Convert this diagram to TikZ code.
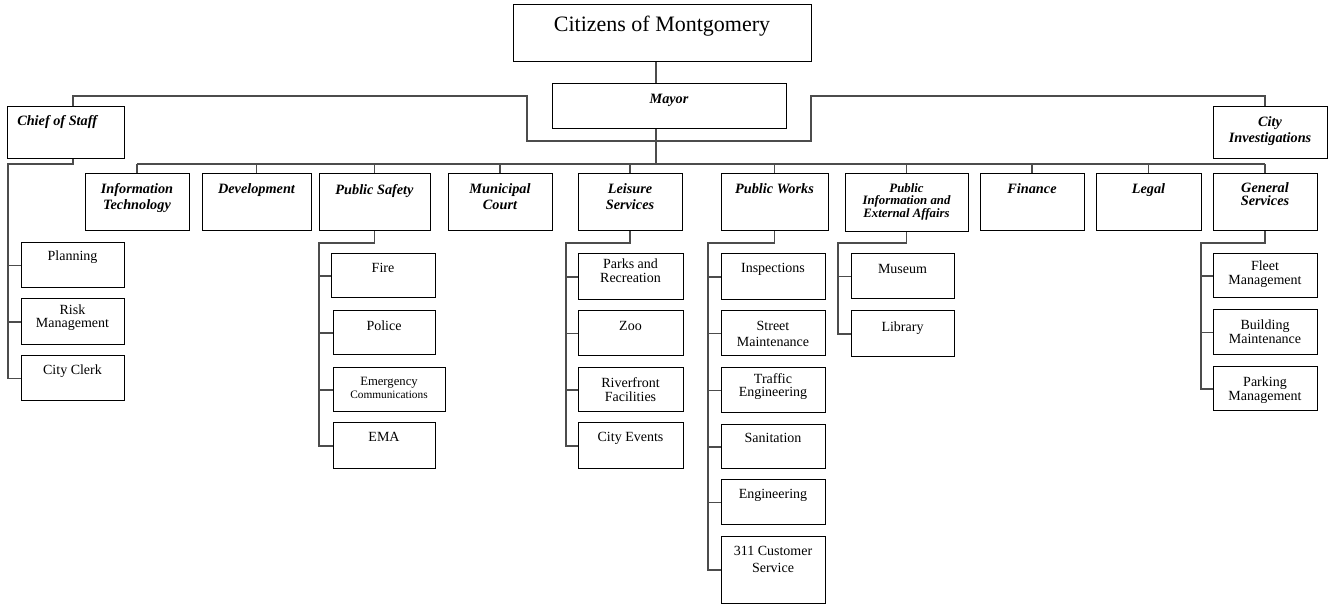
\documentclass[tikz,border=0pt]{standalone}
\usepackage{fontspec}
\setmainfont{Liberation Serif}
\newcommand\obox[5]{\node[bx, minimum width={(#4-#2)*0.75pt}, minimum height={(#5-#3)*0.75pt}] (#1) at ({(#2+#4)/2},{(#3+#5)/2}) {};}
\begin{document}
\begin{tikzpicture}[x=0.75pt,y=-0.75pt,
  bx/.style={draw=black, line width=0.75pt, inner sep=0pt, fill=white},
  lbl/.style={inner sep=0pt, align=center, anchor=north},
  dept/.style={lbl, font=\fontsize{10.7}{12}\selectfont\bfseries\itshape},
  sub/.style={lbl, font=\fontsize{10.5}{10}\selectfont},
  conn/.style={draw=black!70, line width=0.8pt}]
\useasboundingbox (0,0) rectangle (1328,605);
% connector coordinates
\coordinate (trunk) at (656,164);
\coordinate (lt) at (527,96);
\coordinate (lk) at (527,141);
\coordinate (rk) at (811,141);
\coordinate (rt) at (811,96);
\coordinate (cosx) at (73,96);
\coordinate (cix) at (1265,96);
\coordinate (cosk) at (8,164);
\coordinate (psk) at (319,243);
\coordinate (lsk) at (566,243);
\coordinate (pwk) at (708,243);
\coordinate (pik) at (838,243);
\coordinate (gsk) at (1201,243);
% boxes
\obox{cit}{513}{5}{811}{62}
\obox{mayor}{552}{84}{786}{129}
\obox{cos}{7}{107}{124}{159}
\obox{ci}{1213}{107}{1327}{159}
\obox{it}{85}{174}{189}{231}
\obox{dev}{202}{174}{311}{231}
\obox{ps}{319}{174}{430}{231}
\obox{mc}{448}{174}{552}{231}
\obox{ls}{578}{174}{682}{231}
\obox{pw}{721}{174}{828}{231}
\obox{pi}{845}{174}{968}{232}
\obox{fin}{980}{174}{1084}{231}
\obox{leg}{1096}{174}{1201}{231}
\obox{gs}{1213}{174}{1317}{231}
% chief of staff children
\obox{pl}{21}{243}{124}{288}
\obox{rm}{21}{299}{124}{345}
\obox{cc}{21}{356}{124}{401}
% public safety children
\obox{fire}{331}{254}{435}{298}
\obox{police}{333}{311}{435}{355}
\obox{emer}{333}{368}{445}{412}
\obox{ema}{333}{423}{435}{469}
% leisure children
\obox{parks}{578}{254}{683}{300}
\obox{zoo}{578}{311}{683}{356}
\obox{river}{578}{368}{683}{412}
\obox{events}{578}{423}{683}{469}
% public works children
\obox{insp}{721}{254}{825}{300}
\obox{street}{721}{311}{825}{356}
\obox{traffic}{721}{368}{825}{413}
\obox{sanit}{721}{425}{825}{469}
\obox{eng}{721}{480}{825}{525}
\obox{cs}{721}{537}{825}{603}
% public info children
\obox{museum}{851}{254}{954}{299}
\obox{library}{851}{311}{954}{357}
% general services children
\obox{fleet}{1213}{254}{1317}{298}
\obox{bldg}{1213}{310}{1317}{355}
\obox{parkm}{1213}{367}{1317}{411}
% connectors
\draw[conn] (cit.south -| trunk) -- (mayor.north -| trunk);
\draw[conn] (mayor.south -| trunk) -- (trunk);
\draw[conn] (it.north |- trunk) -- (gs.north |- trunk);
\foreach \d in {it,dev,ps,mc,ls,pw,pi,fin,leg,gs}
  \draw[conn] (\d.north) -- (\d.north |- trunk);
\draw[conn] (cos.north -| cosx) -- (cosx) -- (lt) -- (lk) -- (rk) -- (rt) -- (cix) -- (ci.north -| cix);
\draw[conn] (cos.south -| cosx) |- (cosk) |- (cc.west);
\foreach \c in {pl,rm} \draw[conn] (\c.west) -- (\c.west -| cosk);
\draw[conn] (ps.south) |- (psk) |- (ema.west);
\foreach \c in {fire,police,emer} \draw[conn] (\c.west) -- (\c.west -| psk);
\draw[conn] (ls.south) |- (lsk) |- (events.west);
\foreach \c in {parks,zoo,river} \draw[conn] (\c.west) -- (\c.west -| lsk);
\draw[conn] (pw.south) |- (pwk) |- (cs.west);
\foreach \c in {insp,street,traffic,sanit,eng} \draw[conn] (\c.west) -- (\c.west -| pwk);
\draw[conn] (pi.south) |- (pik) |- (library.west);
\draw[conn] (museum.west) -- (museum.west -| pik);
\draw[conn] (gs.south) |- (gsk) |- (parkm.west);
\foreach \c in {fleet,bldg} \draw[conn] (\c.west) -- (\c.west -| gsk);
% texts
\node[lbl, font=\fontsize{16.5}{18}\selectfont] (cit-t) at (cit.north |- 0,16) {Citizens of Montgomery};
\node[dept] (mayor-t) at (mayor.north |- 0,94) {Mayor};
\node[dept, anchor=north west] (cos-t) at (17,115) {Chief of Staff};
\node[dept] (ci-t) at (ci.north |- 0,116) {City\\Investigations};
\node[dept] (it-t) at (it.north |- 0,183) {Information\\Technology};
\node[dept] (dev-t) at (dev.north |- 0,183) {Development};
\node[dept] (ps-t) at (ps.north |- 0,184) {Public Safety};
\node[dept] (mc-t) at (mc.north |- 0,183) {Municipal\\Court};
\node[dept] (ls-t) at (ls.north |- 0,183) {Leisure\\Services};
\node[dept] (pw-t) at (pw.north |- 0,183) {Public Works};
\node[dept, font=\fontsize{9.6}{9.6}\selectfont\bfseries\itshape] (pi-t) at (pi.north |- 0,183) {Public\\Information and\\External Affairs};
\node[dept] (fin-t) at (fin.north |- 0,183) {Finance};
\node[dept] (leg-t) at (leg.north |- 0,183) {Legal};
\node[dept, font=\fontsize{10.7}{9.8}\selectfont\bfseries\itshape] (gs-t) at (gs.north |- 0,182) {General\\Services};
\node[sub] (pl-t) at (pl.north |- 0,251) {Planning};
\node[sub, font=\fontsize{10.5}{9.5}\selectfont] (rm-t) at (rm.north |- 0,305) {Risk\\Management};
\node[sub] (cc-t) at (cc.north |- 0,365) {City Clerk};
\node[sub] (fire-t) at (fire.north |- 0,263) {Fire};
\node[sub] (police-t) at (police.north |- 0,321) {Police};
\node[sub, font=\fontsize{9.5}{9.8}\selectfont] (emer-t) at (emer.north |- 0,377) {Emergency\\{\fontsize{8.5}{9.8}\selectfont Communications}};
\node[sub] (ema-t) at (ema.north |- 0,432) {EMA};
\node[sub, font=\fontsize{10.5}{9.8}\selectfont] (parks-t) at (parks.north |- 0,259) {Parks and\\Recreation};
\node[sub] (zoo-t) at (zoo.north |- 0,321) {Zoo};
\node[sub, font=\fontsize{10.5}{10.5}\selectfont] (river-t) at (river.north |- 0,377) {Riverfront\\Facilities};
\node[sub] (events-t) at (events.north |- 0,432) {City Events};
\node[sub] (insp-t) at (insp.north |- 0,263) {Inspections};
\node[sub, font=\fontsize{10.5}{12}\selectfont] (street-t) at (street.north |- 0,321) {Street\\Maintenance};
\node[sub, font=\fontsize{10.5}{9.8}\selectfont] (traffic-t) at (traffic.north |- 0,373) {Traffic\\Engineering};
\node[sub] (sanit-t) at (sanit.north |- 0,433) {Sanitation};
\node[sub] (eng-t) at (eng.north |- 0,489) {Engineering};
\node[sub, font=\fontsize{10.5}{12.5}\selectfont] (cs-t) at (cs.north |- 0,546) {311 Customer\\Service};
\node[sub] (museum-t) at (museum.north |- 0,264) {Museum};
\node[sub] (library-t) at (library.north |- 0,322) {Library};
\node[sub, font=\fontsize{10.5}{9.8}\selectfont] (fleet-t) at (fleet.north |- 0,261) {Fleet\\Management};
\node[sub, font=\fontsize{10.5}{10.5}\selectfont] (bldg-t) at (bldg.north |- 0,320) {Building\\Maintenance};
\node[sub, font=\fontsize{10.5}{10.5}\selectfont] (parkm-t) at (parkm.north |- 0,377) {Parking\\Management};
\end{tikzpicture}
\end{document}
